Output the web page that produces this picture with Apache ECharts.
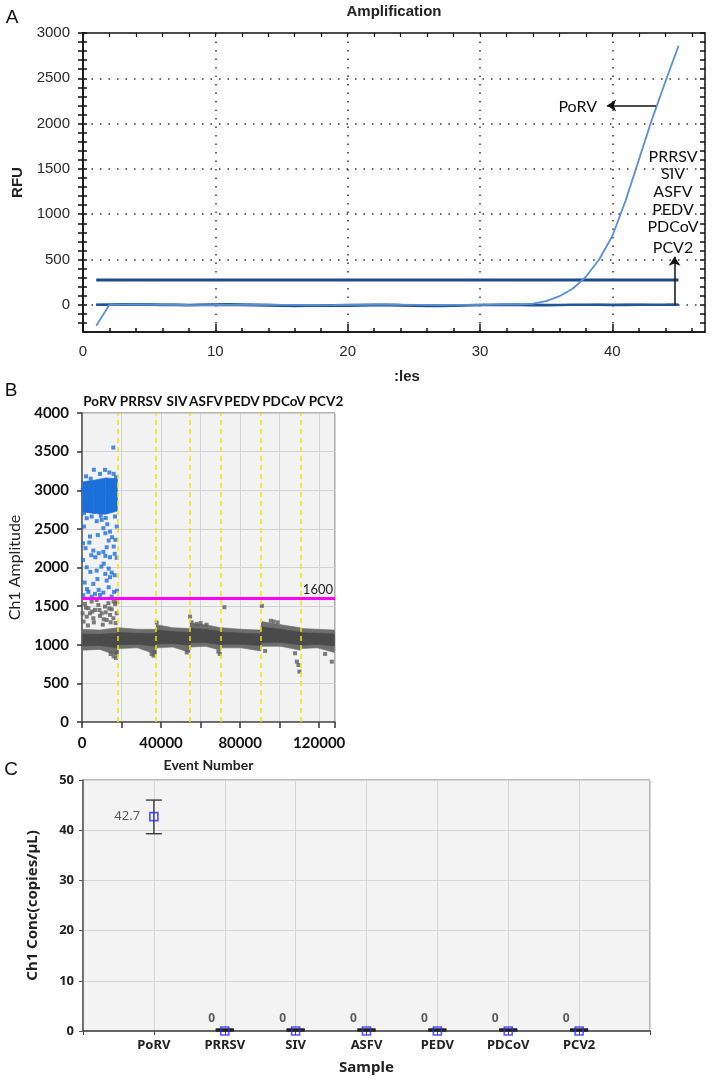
<!DOCTYPE html>
<html>
<head>
<meta charset="utf-8">
<title>PoRV specificity</title>
<script src="https://cdn.jsdelivr.net/npm/echarts@6/dist/echarts.min.js"></script>
<style>
html, body { margin: 0; padding: 0; background: #fff; }
#main { width: 714px; height: 1081px; }
</style>
</head>
<body>
<div id="main"></div>
<script>
// ---------- A: amplification curves ----------
var cycles = [1, 2, 3, 4, 5, 6, 7, 8, 9, 10, 11, 12, 13, 14, 15, 16, 17, 18, 19, 20, 21, 22, 23,
	24, 25, 26, 27, 28, 29, 30, 31, 32, 33, 34, 35, 36, 37, 38, 39, 40, 41, 42, 43, 44, 45];
var porvRfu = [-230, 0, 2, 3, 2, 1, 0, -2, -3, -2, 0, 1, 2, 1, 0, -1, -2, -3, -2, 0, 1, 2, 2,
	1, 0, -1, -2, -1, 0, 1, 2, 4, 6, 12, 40, 95, 177, 310, 500, 760, 1150, 1600, 2050, 2460, 2860];
var negRfuA = [0, 2, 3, 2, 0, -2, -3, -4, -3, -2, 0, -3, -6, -8, -10, -12, -10, -8, -9, -11, -8, -6, -5,
	-8, -10, -12, -14, -10, -6, -3, -2, 0, -3, -5, -4, -2, 0, 2, 1, -1, -2, 0, 1, 0, 1];
var negRfuB = [0, 3, 5, 6, 5, 4, 3, 2, 4, 6, 8, 6, 3, 0, -3, -6, -8, -5, -2, 0, 2, 4, 3,
	0, -2, -4, -6, -8, -5, -2, 0, 2, 4, 3, 1, -1, -3, -2, 0, 2, 3, 1, -1, 0, 2];
var thresholdRfu = 275;
var rfuLabels = [0, 500, 1000, 1500, 2000, 2500, 3000];
var rfuTicks = [-200, -100, 0, 100, 200, 300, 400, 500, 600, 700, 800, 900, 1000, 1100, 1200, 1300, 1400,
	1500, 1600, 1700, 1800, 1900, 2000, 2100, 2200, 2300, 2400, 2500, 2600, 2700, 2800, 2900, 3000];
var cycleTicks = [0, 2, 4, 6, 8, 10, 12, 14, 16, 18, 20, 22, 24, 26, 28, 30, 32, 34, 36, 38, 40, 42, 44, 46];
var porvArrow = [[43.3, 2200], [39.6, 2200]];
var negArrow = [[44.7, 0], [44.7, 530]];
var negNames = ['PRRSV', 'SIV', 'ASFV', 'PEDV', 'PDCoV', 'PCV2'];

// ---------- B: droplet amplitude ----------
var wells = ['PoRV', 'PRRSV', 'SIV', 'ASFV', 'PEDV', 'PDCoV', 'PCV2'];
var wellEdges = [18200, 37500, 54700, 70400, 90600, 110700];
var ampThreshold = 1600;
var bandX = [300, 9000, 17900, 18500, 28000, 37200, 37800, 46000, 54400, 55000, 62500, 70100, 70700,
	80500, 90300, 90900, 100500, 110400, 111000, 119000, 127700];
var outerLow = [930, 940, 860, 950, 960, 880, 960, 970, 900, 970, 980, 930, 960, 960, 920, 980, 980, 930, 950, 960, 900];
var outerHigh = [1200, 1190, 1220, 1220, 1200, 1200, 1260, 1220, 1210, 1280, 1260, 1220, 1220, 1200, 1190,
	1300, 1260, 1220, 1210, 1200, 1190];
var innerLow = [985, 990, 960, 1000, 1005, 980, 1010, 1015, 995, 1025, 1030, 1000, 1005, 1005, 990, 1030,
	1030, 1000, 995, 1005, 985];
var innerHigh = [1140, 1135, 1150, 1160, 1150, 1145, 1190, 1170, 1160, 1215, 1200, 1170, 1165, 1150, 1140,
	1230, 1200, 1165, 1155, 1150, 1140];
var posBandX = [400, 6000, 12000, 17900];
var posLow = [2720, 2700, 2690, 2730];
var posHigh = [3110, 3130, 3160, 3150];
var posDrops = [
	[15850, 3553], [6000, 3265], [9115, 3212], [11647, 3264], [13841, 3230], [16036, 3212], [17217, 3169],
	[2025, 3180], [4400, 3150], [337, 3005], [700, 2850], [1013, 2703], [4895, 2660], [7427, 2600],
	[2363, 2638], [16711, 2660], [12000, 2640], [9500, 2670], [1013, 2530], [17555, 2530], [10803, 2509],
	[9959, 2617], [14179, 2465], [11816, 2444], [4051, 2401], [15192, 2392], [3713, 2323], [16880, 2358],
	[13504, 2349], [500, 2314], [16036, 2271], [12491, 2262], [5739, 2219], [10803, 2202], [8440, 2185],
	[16542, 2176], [4726, 2159], [11816, 2150], [6752, 2133], [14179, 2133], [17555, 2124], [500, 2098],
	[9790, 2012], [2363, 2003], [13504, 1986], [7427, 1960], [4220, 1943], [15023, 1934], [11816, 1917],
	[14179, 1874], [12491, 1831], [1350, 1805], [5739, 1788], [13504, 1744], [8440, 1710], [3207, 1684],
	[16205, 1684], [10803, 1675], [6583, 1658], [9115, 1645], [675, 1641], [4895, 1623], [15023, 1623],
	[17700, 1700], [2500, 1720], [7800, 1850], [11000, 2050], [16500, 1900], [1800, 2250], [8000, 2420],
	[12800, 2560]
];
var negDrops = [
	[1519, 1528], [3207, 1472], [4895, 1559], [6583, 1451], [8271, 1515], [9959, 1407], [11647, 1494],
	[13335, 1537], [15023, 1459], [16711, 1528], [17555, 1407], [2363, 1364], [5739, 1343], [9115, 1373],
	[12491, 1321], [15867, 1343], [4051, 1407], [7427, 1580], [14179, 1386], [300, 1407], [800, 1300],
	[17000, 1280], [10500, 1260], [3000, 1250], [6000, 1290], [12000, 1420], [16000, 1560], [8800, 1450],
	[2000, 1480], [14500, 1290], [11000, 1330], [5200, 1430], [13800, 1470], [17800, 1550],
	[14500, 880], [16000, 850], [17200, 830], [17600, 900], [35200, 880], [36200, 860], [36800, 900],
	[37800, 1287], [53000, 900], [54680, 1364], [69000, 911], [69700, 881], [72050, 1486], [91000, 1503],
	[92650, 920], [95500, 1310], [97000, 1300], [99000, 1290], [107800, 890], [108700, 781], [109500, 738],
	[110000, 652], [123000, 881], [126400, 781], [55500, 1290], [58000, 1270], [60000, 1280], [63000, 1260]
];

// ---------- C: concentration ----------
var samples = ['PoRV', 'PRRSV', 'SIV', 'ASFV', 'PEDV', 'PDCoV', 'PCV2'];
var conc = [42.7, 0, 0, 0, 0, 0, 0];
var concLow = [39.3, 0, 0, 0, 0, 0, 0];
var concHigh = [46.0, 0, 0, 0, 0, 0, 0];

function pairs(xs, ys) {
	var out = [];
	for (var i = 0; i < xs.length; i++) {
		out.push([xs[i], ys[i]]);
	}
	return out;
}
function triples(xs, lo, hi) {
	var out = [];
	for (var i = 0; i < xs.length; i++) {
		out.push([xs[i], lo[i], hi[i]]);
	}
	return out;
}
// filled band between two edges, drawn segment by segment
function bandRenderer(color) {
	return function (params, api) {
		var i = params.dataIndexInside;
		if (i >= params.dataInsideLength - 1) {
			return null;
		}
		var x0 = api.value(0, i), x1 = api.value(0, i + 1);
		var pts = [
			api.coord([x0, api.value(1, i)]),
			api.coord([x1, api.value(1, i + 1)]),
			api.coord([x1, api.value(2, i + 1)]),
			api.coord([x0, api.value(2, i)])
		];
		return {
			type: 'polygon',
			shape: { points: pts },
			style: { fill: color, stroke: color, lineWidth: 0.6 }
		};
	};
}

var dom = document.getElementById('main');
var chart = echarts.init(dom);

var dots = [1.5, 7];
var fontA = 'Liberation Sans';
var fontB = 'Lato';
var fontC = 'Noto Sans';

var hGrid = [];
for (var i = 0; i < rfuLabels.length - 1; i++) {
	hGrid.push({ yAxis: rfuLabels[i] });
}
var wellLines = wellEdges.map(function (e) { return { xAxis: e }; });
var catData = [''].concat(samples).concat(['']);
var errData = samples.map(function (s, i) { return [s, concLow[i], concHigh[i]]; });
var concPoints = samples.map(function (s, i) {
	var item = { value: [s, conc[i]] };
	if (conc[i] > 0) {
		item.label = { position: 'left', distance: 9, offset: [0, 0], fontWeight: 'normal', fontSize: 13 };
	}
	return item;
});

// well title positions (pixels), roughly centred on each well
var wellLabelX = [100, 141, 177, 206, 242, 284, 326];

var graphics = [
	{ type: 'text', x: 12, y: 18, style: { text: 'A', font: '19px ' + fontA, fill: '#111', align: 'center', verticalAlign: 'middle' } },
	{ type: 'text', x: 11, y: 391, style: { text: 'B', font: '19px ' + fontA, fill: '#111', align: 'center', verticalAlign: 'middle' } },
	{ type: 'text', x: 11, y: 770, style: { text: 'C', font: '19px ' + fontA, fill: '#111', align: 'center', verticalAlign: 'middle' } },
	{ type: 'text', x: 394, y: 12, style: { text: 'Amplification', font: 'bold 15px ' + fontA, fill: '#222', align: 'center', verticalAlign: 'middle' } },
	{ type: 'text', x: 407, y: 377, style: { text: ':les', font: 'bold 15px ' + fontA, fill: '#222', align: 'center', verticalAlign: 'middle' } },
	{ type: 'text', x: 597, y: 107, style: { text: 'PoRV', font: '16px ' + fontB, fill: '#111', align: 'right', verticalAlign: 'middle' } }
];
var negY = [157, 174, 192, 210, 227, 248];
negNames.forEach(function (n, i) {
	graphics.push({ type: 'text', x: 673, y: negY[i], style: { text: n, font: '16px ' + fontB, fill: '#111', align: 'center', verticalAlign: 'middle' } });
});
wells.forEach(function (w, i) {
	graphics.push({ type: 'text', x: wellLabelX[i], y: 402, style: { text: w, font: 'bold 13.5px ' + fontB, fill: '#111', align: 'center', verticalAlign: 'middle' } });
});

var plain = function (v) { return String(v); };

var option = {
	animation: false,
	backgroundColor: '#fff',
	textStyle: { fontFamily: fontA },
	grid: [
		{ left: 83, right: 9, top: 33, bottom: 749, show: true, borderColor: '#111', borderWidth: 1.5, outerBoundsMode: 'none' },
		{ left: 82, right: 379, top: 413, bottom: 359, show: true, backgroundColor: '#f2f2f2', borderColor: '#666', borderWidth: 1, outerBoundsMode: 'none' },
		{ left: 83, right: 64, top: 780, bottom: 50, show: true, backgroundColor: '#f3f3f3', borderColor: '#777', borderWidth: 1, outerBoundsMode: 'none' }
	],
	xAxis: [
		{
			gridIndex: 0, type: 'value', min: 0, max: 47, interval: 10,
			axisLine: { show: true, onZero: false, lineStyle: { color: '#111', width: 1.5 } },
			axisTick: { show: true, inside: true, length: 8, lineStyle: { color: '#111', width: 1.5 } },
			axisLabel: { margin: 12, color: '#2b2b2b', fontSize: 15, fontFamily: fontA, showMaxLabel: false, formatter: plain },
			splitLine: { show: true, lineStyle: { color: '#333', width: 1.5, type: dots } }
		},
		{
			gridIndex: 0, type: 'value', min: 0, max: 47, position: 'bottom',
			axisLine: { show: false, onZero: false },
			axisTick: { show: true, inside: true, length: 4, customValues: cycleTicks, lineStyle: { color: '#111', width: 1.5 } },
			axisLabel: { show: false }, splitLine: { show: false }
		},
		{
			gridIndex: 0, type: 'value', min: 0, max: 47, position: 'top',
			axisLine: { show: false, onZero: false },
			axisTick: { show: true, inside: true, length: 4, customValues: cycleTicks, lineStyle: { color: '#111', width: 1.2 } },
			axisLabel: { show: false }, splitLine: { show: false }
		},
		{
			gridIndex: 1, type: 'value', min: 0, max: 128000, interval: 20000,
			name: 'Event Number', nameLocation: 'middle', nameGap: 36,
			nameTextStyle: { fontFamily: fontB, fontWeight: 'bold', fontSize: 14, color: '#222' },
			axisLine: { show: true, onZero: false, lineStyle: { color: '#555', width: 1.5 } },
			axisTick: { show: true, length: 6, lineStyle: { color: '#333', width: 1.5 } },
			axisLabel: {
				margin: 14, color: '#111', fontFamily: fontB, fontWeight: 'bold', fontSize: 15,
				formatter: function (v) { return v % 40000 === 0 ? String(v) : ''; }
			},
			splitLine: { show: true, lineStyle: { color: '#d2d2d2', width: 1 } }
		},
		{
			gridIndex: 2, type: 'category', data: catData, boundaryGap: false,
			name: 'Sample', nameLocation: 'middle', nameGap: 29,
			nameTextStyle: { fontFamily: fontC, fontWeight: 'bold', fontSize: 15, color: '#222' },
			axisLine: { show: true, onZero: false, lineStyle: { color: '#444', width: 1.5 } },
			axisTick: { show: true, length: 4, interval: 0, lineStyle: { color: '#444' } },
			axisLabel: { interval: 0, margin: 8, color: '#222', fontFamily: fontC, fontWeight: 'bold', fontSize: 13 },
			splitLine: { show: true, interval: 0, lineStyle: { color: '#d6d6d6', width: 1 } }
		}
	],
	yAxis: [
		{
			gridIndex: 0, type: 'value', min: -300, max: 3000,
			name: 'RFU', nameLocation: 'middle', nameGap: 58,
			nameTextStyle: { fontFamily: fontA, fontWeight: 'bold', fontSize: 15, color: '#222' },
			axisLine: { show: true, onZero: false, lineStyle: { color: '#111', width: 1.5 } },
			axisTick: { show: true, length: 5, customValues: rfuTicks, lineStyle: { color: '#111', width: 1.5 } },
			axisLabel: { margin: 13, color: '#2b2b2b', fontSize: 15, fontFamily: fontA, customValues: rfuLabels, formatter: plain },
			splitLine: { show: false }
		},
		{
			gridIndex: 0, type: 'value', min: -300, max: 3000, position: 'left',
			axisLine: { show: false, onZero: false },
			axisTick: { show: true, inside: true, length: 4, customValues: rfuTicks, lineStyle: { color: '#111', width: 1.5 } },
			axisLabel: { show: false }, splitLine: { show: false }
		},
		{
			gridIndex: 0, type: 'value', min: -300, max: 3000, position: 'right',
			axisLine: { show: false, onZero: false },
			axisTick: { show: true, inside: true, length: 5, customValues: rfuTicks, lineStyle: { color: '#111', width: 1.5 } },
			axisLabel: { show: false }, splitLine: { show: false }
		},
		{
			gridIndex: 1, type: 'value', min: 0, max: 4000, interval: 500,
			name: 'Ch1 Amplitude', nameLocation: 'middle', nameGap: 59,
			nameTextStyle: { fontFamily: fontB, fontSize: 16, color: '#222' },
			axisLine: { show: true, onZero: false, lineStyle: { color: '#555', width: 1.5 } },
			axisTick: { show: true, length: 5, lineStyle: { color: '#333', width: 1.5 } },
			axisLabel: { margin: 13, color: '#111', fontFamily: fontB, fontWeight: 'bold', fontSize: 15, formatter: plain },
			splitLine: { show: true, lineStyle: { color: '#d2d2d2', width: 1 } }
		},
		{
			gridIndex: 2, type: 'value', min: 0, max: 50, interval: 10,
			name: 'Ch1 Conc(copies/µL)', nameLocation: 'middle', nameGap: 43,
			nameTextStyle: { fontFamily: fontC, fontWeight: 'bold', fontSize: 15, color: '#222' },
			axisLine: { show: true, onZero: false, lineStyle: { color: '#555', width: 1.5 } },
			axisTick: { show: true, length: 4, lineStyle: { color: '#555' } },
			axisLabel: { margin: 9, color: '#222', fontFamily: fontC, fontWeight: 'bold', fontSize: 13 },
			splitLine: { show: true, lineStyle: { color: '#d6d6d6', width: 1 } }
		}
	],
	graphic: graphics,
	series: [
		// ----- A -----
		{
			type: 'line', xAxisIndex: 0, yAxisIndex: 0, data: pairs(cycles, negRfuA),
			showSymbol: false, z: 3, lineStyle: { color: '#1f4f8e', width: 2.5 },
			markLine: {
				silent: true, symbol: 'none', label: { show: false }, z: 1,
				lineStyle: { color: '#333', width: 1.5, type: dots },
				data: hGrid
			}
		},
		{
			type: 'line', xAxisIndex: 0, yAxisIndex: 0, data: pairs(cycles, negRfuB),
			showSymbol: false, z: 3, lineStyle: { color: '#24569a', width: 2 }
		},
		{
			type: 'line', xAxisIndex: 0, yAxisIndex: 0,
			data: [[cycles[0], thresholdRfu], [cycles[cycles.length - 1], thresholdRfu]],
			showSymbol: false, z: 3, lineStyle: { color: '#1b4b8a', width: 3 }
		},
		{
			type: 'line', xAxisIndex: 0, yAxisIndex: 0, data: pairs(cycles, porvRfu),
			showSymbol: false, z: 4, lineStyle: { color: '#5b90d2', width: 1.8 },
			markLine: {
				silent: true, symbol: ['none', 'arrow'], symbolSize: 9, label: { show: false },
				lineStyle: { color: '#111', width: 1.5, type: 'solid' },
				data: [
					[{ coord: porvArrow[0] }, { coord: porvArrow[1] }],
					[{ coord: negArrow[0] }, { coord: negArrow[1] }]
				]
			}
		},
		// ----- B -----
		{
			type: 'custom', xAxisIndex: 3, yAxisIndex: 3, data: triples(bandX, outerLow, outerHigh),
			encode: { x: 0, y: [1, 2] }, renderItem: bandRenderer('#6e6e6e'), z: 2, silent: true
		},
		{
			type: 'custom', xAxisIndex: 3, yAxisIndex: 3, data: triples(bandX, innerLow, innerHigh),
			encode: { x: 0, y: [1, 2] }, renderItem: bandRenderer('#4a4a4a'), z: 3, silent: true
		},
		{
			type: 'custom', xAxisIndex: 3, yAxisIndex: 3, data: triples(posBandX, posLow, posHigh),
			encode: { x: 0, y: [1, 2] }, renderItem: bandRenderer('#1b6fdb'), z: 3, silent: true
		},
		{
			type: 'scatter', xAxisIndex: 3, yAxisIndex: 3, data: negDrops,
			symbol: 'rect', symbolSize: 4, itemStyle: { color: '#5e5e5e' }, z: 4,
			markLine: {
				silent: true, symbol: 'none', label: { show: false },
				lineStyle: { color: '#f3e600', width: 1.5, type: [5, 4] },
				data: wellLines
			}
		},
		{
			type: 'scatter', xAxisIndex: 3, yAxisIndex: 3, data: posDrops,
			symbol: 'rect', symbolSize: 4, itemStyle: { color: '#1b6fdb' }, z: 4,
			markLine: {
				silent: true, symbol: 'none',
				label: { show: true, position: 'insideEndTop', formatter: String(ampThreshold), color: '#222', fontFamily: fontB, fontSize: 13, distance: 2 },
				lineStyle: { color: '#ff00ff', width: 3, type: 'solid' },
				data: [{ yAxis: ampThreshold }]
			}
		},
		// ----- C -----
		{
			type: 'custom', xAxisIndex: 4, yAxisIndex: 4, data: errData, z: 3,
			encode: { x: 0, y: [1, 2] },
			renderItem: function (params, api) {
				var lo = api.coord([api.value(0), api.value(1)]);
				var hi = api.coord([api.value(0), api.value(2)]);
				var flat = hi[1] === lo[1];
				var w = flat ? 9 : 8;
				var st = { stroke: flat ? '#222' : '#3a3a3a', lineWidth: flat ? 3 : 1.4 };
				var dy = flat ? -1 : 0;
				return {
					type: 'group',
					children: [
						{ type: 'line', shape: { x1: lo[0], y1: lo[1], x2: hi[0], y2: hi[1] }, style: st },
						{ type: 'line', shape: { x1: hi[0] - w, y1: hi[1] + dy, x2: hi[0] + w, y2: hi[1] + dy }, style: st },
						{ type: 'line', shape: { x1: lo[0] - w, y1: lo[1] + dy, x2: lo[0] + w, y2: lo[1] + dy }, style: st }
					]
				};
			}
		},
		{
			type: 'scatter', xAxisIndex: 4, yAxisIndex: 4, data: concPoints, z: 5,
			symbol: 'rect', symbolSize: 8,
			itemStyle: { color: 'rgba(0,0,0,0)', borderColor: '#2b2bff', borderWidth: 1.6 },
			label: {
				show: true, position: 'top', offset: [-13, 3], distance: 5,
				color: '#333', fontFamily: fontC, fontWeight: 'bold', fontSize: 12,
				formatter: function (p) { return String(p.value[1]); }
			}
		}
	]
};

chart.setOption(option, true);
window.addEventListener('resize', function (e) {
	chart.resize();
});
</script>
</body>
</html>
